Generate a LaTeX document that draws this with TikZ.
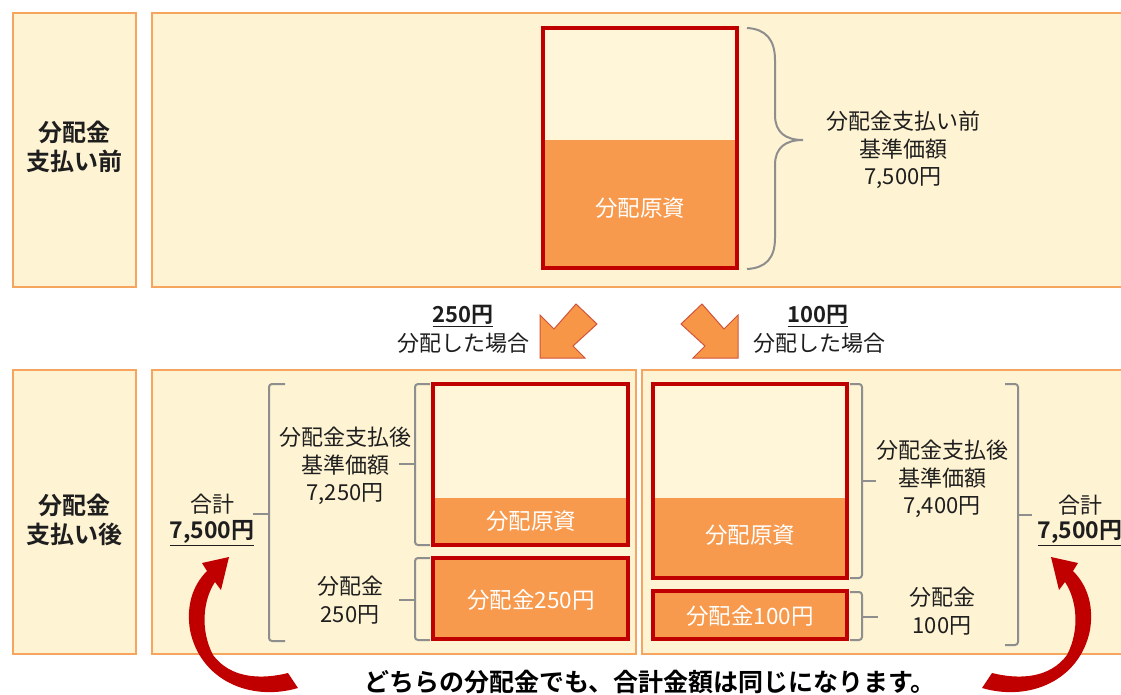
\documentclass[tikz,border=0pt]{standalone}
\usepackage{fontspec}
\newfontfamily\jp{Noto Sans CJK JP}[BoldFont={Noto Sans CJK JP Bold}]
\definecolor{cream}{HTML}{FEF3D3}
\definecolor{barcream}{HTML}{FFF5D8}
\definecolor{panelborder}{HTML}{F5A55E}
\definecolor{barred}{HTML}{C00000}
\definecolor{barfill}{HTML}{F79A4D}
\definecolor{bracegray}{HTML}{8E8E8E}
\definecolor{arrowfill}{HTML}{F79646}
\definecolor{arrowedge}{HTML}{D2533C}
\definecolor{curvered}{HTML}{C00000}
\definecolor{txt}{HTML}{1E1E1E}
\newcommand\redcurvepath{(298,688) .. controls (250,702) and (200,680) .. (190,630) .. controls (186,605) and (193,585) .. (207,571) -- (202,563) -- (229,557) -- (221,590) -- (215,582) .. controls (203,600) and (200,630) .. (213,655) .. controls (230,678) and (260,680) .. (288,673) -- cycle}
\begin{document}
\begin{tikzpicture}[x=1pt,y=-1pt,
  panel/.style={draw=panelborder, fill=cream, line width=2pt},
  barframe/.style={draw=barred, line width=3.5pt},
  bracket/.style={draw=bracegray, line width=2pt, rounded corners=3pt},
  txtnode/.style={font=\jp\fontsize{22}{27.5}\selectfont, text=txt, align=center, inner sep=0pt},
  boldtxt/.style={font=\jp\bfseries\fontsize{23}{27}\selectfont, text=txt, align=center, inner sep=0pt},
  midbold/.style={font=\jp\bfseries\fontsize{22}{27}\selectfont, text=txt, align=center, inner sep=0pt},
  bartext/.style={font=\jp\fontsize{22.5}{26}\selectfont, text=white, inner sep=0pt},
  labeltext/.style={font=\jp\bfseries\fontsize{24}{29}\selectfont, text=txt, align=center, inner sep=0pt},
  blockarrow/.style={fill=arrowfill, draw=arrowedge, line width=1pt, line join=miter}
]
\useasboundingbox (0,0) rectangle (1121,695);
\fill[white] (0,0) rectangle (1121,695);

% ---------- panels ----------
\draw[panel] (13,13) rectangle (136,287);
\draw[panel] (152,13) rectangle (1135,287);
\draw[panel] (13,370) rectangle (136,654);
\draw[panel] (152,370) rectangle (636,654);
\draw[panel] (642,370) rectangle (1135,654);

\node[labeltext] (lblbefore) at (75,147) {分配金\\支払い前};
\node[labeltext] (lblafter) at (75,520) {分配金\\支払い後};

% ---------- top bar ----------
\fill[barcream] (543,28) rectangle (737,140);
\fill[barfill] (543,140) rectangle (737,268);
\node[barframe, minimum width=194pt, minimum height=240pt, inner sep=0pt] (topbar) at (640,148) {};
\node[bartext] (topbartxt) at (640,208) {分配原資};
\draw[bracegray, line width=2pt] (747,28) .. controls (766,29) and (775,40) .. (775,60) -- (775,115) .. controls (775,132) and (785,140) .. (803,140) .. controls (785,140) and (775,148) .. (775,165) -- (775,238) .. controls (775,258) and (766,268) .. (747,269);
\node[txtnode] (toptxt) at (903,150) {分配金支払い前\\基準価額\\7,500円};

% ---------- middle arrows ----------
\draw[blockarrow] (540,358) -- (540,315) -- (554,329) -- (576,304) -- (597,324) -- (573,346) -- (585,358) -- cycle;
\draw[blockarrow] (738,358) -- (738,315) -- (724,329) -- (702,304) -- (681,324) -- (705,346) -- (693,358) -- cycle;
\node[midbold] (amt250) at (463,316) {\underline{250円}};
\node[txtnode] (case250) at (463,343) {分配した場合};
\node[midbold] (amt100) at (818,316) {\underline{100円}};
\node[txtnode] (case100) at (819,343) {分配した場合};

% ---------- left bottom panel ----------
\fill[barcream] (433,384) rectangle (628,498);
\fill[barfill] (433,498) rectangle (628,545);
\node[barframe, minimum width=195pt, minimum height=161pt, inner sep=0pt] (lbar) at (530.5,464.5) {};
\node[bartext] (lbartxt) at (531,521) {分配原資};
\fill[barfill] (433,558) rectangle (628,639);
\node[barframe, minimum width=195pt, minimum height=81pt, inner sep=0pt] (ldiv) at (530.5,598.5) {};
\node[bartext] (ldivtxt) at (531,600) {分配金250円};

\draw[bracket] (430,384) -- (415,384) -- (415,545) -- (430,545);
\draw[bracket] (415,464) -- (399,464);
\draw[bracket] (430,558) -- (415,558) -- (415,640) -- (430,640);
\draw[bracket] (415,600) -- (399,600);
\draw[bracket] (285,384) -- (269,384) -- (269,641) -- (285,641);
\draw[bracket] (269,514) -- (253,514);

\node[txtnode] (lnav) at (345,466) {分配金支払後\\基準価額\\7,250円};
\node[txtnode] (ldivlbl) at (350,600) {分配金\\250円};
\node[txtnode] (ltotal) at (212,504) {合計};
\node[boldtxt] (ltotalamt) at (212,533) {\underline{7,500円}};

% ---------- right bottom panel ----------
\fill[barcream] (653,384) rectangle (847,498);
\fill[barfill] (653,498) rectangle (847,578);
\node[barframe, minimum width=194pt, minimum height=194pt, inner sep=0pt] (rbar) at (750,481) {};
\node[bartext] (rbartxt) at (750,535) {分配原資};
\fill[barfill] (653,591) rectangle (847,639);
\node[barframe, minimum width=194pt, minimum height=48pt, inner sep=0pt] (rdiv) at (750,615) {};
\node[bartext] (rdivtxt) at (750,616) {分配金100円};

\draw[bracket] (850,384) -- (862,384) -- (862,578) -- (850,578);
\draw[bracket] (862,481) -- (876,481);
\draw[bracket] (850,592) -- (862,592) -- (862,640) -- (850,640);
\draw[bracket] (862,617) -- (878,617);
\draw[bracket] (1005,384) -- (1018,384) -- (1018,645) -- (1005,645);
\draw[bracket] (1018,515) -- (1032,515);

\node[txtnode] (rnav) at (942,479) {分配金支払後\\基準価額\\7,400円};
\node[txtnode] (rdivlbl) at (942,611) {分配金\\100円};
\node[txtnode] (rtotal) at (1080,505) {合計};
\node[boldtxt] (rtotalamt) at (1080,533) {\underline{7,500円}};

% ---------- curved arrows ----------
\fill[curvered] \redcurvepath;
\begin{scope}[shift={(1280,0)}, xscale=-1]
\fill[curvered] \redcurvepath;
\end{scope}

\node[font=\jp\bfseries\fontsize{25}{28}\selectfont, text=black, inner sep=0pt] (note) at (650,682) {どちらの分配金でも、合計金額は同じになります。};
\end{tikzpicture}
\end{document}
